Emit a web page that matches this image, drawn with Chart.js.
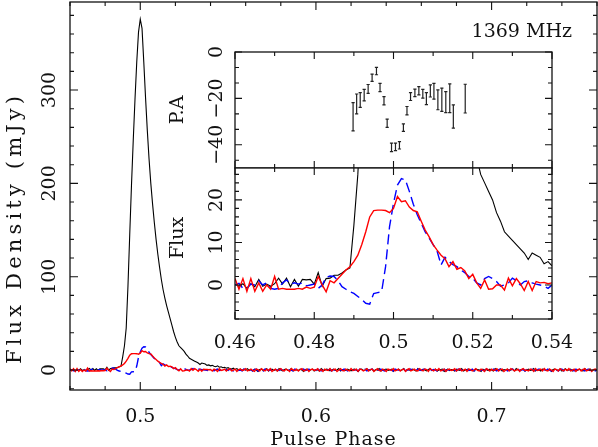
<!DOCTYPE html>
<html>
<head>
<meta charset="utf-8">
<script src="https://cdn.jsdelivr.net/npm/chart.js@4.4.1/dist/chart.umd.min.js"></script>
<style>
  html, body { margin: 0; padding: 0; background: #fff; }
  #wrap { position: relative; width: 598px; height: 447px; overflow: hidden; }
  #wrap canvas { position: absolute; left: 0; top: 0; }
</style>
</head>
<body>
<div id="wrap">
  <canvas id="mainChart" width="598" height="447"></canvas>
  <canvas id="paChart" width="598" height="447"></canvas>
  <canvas id="fluxChart" width="598" height="447"></canvas>
</div>
<script>
// ==================== Data ====================
// profile bins: one value per 0.001 in pulse phase, starting at 0.46
const phaseStart = 0.46;
const phaseStep = 0.001;

// total intensity (black)
const stokesI = [
  0.2, -0.3, 0.3, -0.8, 0.3, -0.4, 1.3, -0.3, 0.2, -0.3,
  0.3, 1.6, 0.2, 1.6, -0.4, 1.3, -0.3, 1.3, 1.2, 1.3,
  0.2, 2.9, -0.3, 1.5, 1.6, 2.3, 2.3, 2.8, 3.5, 4.0,
  14, 26, 45, 90, 145, 198, 246, 290, 330, 362,
  376, 366, 330, 292, 257, 226, 200, 178, 158, 140,
  124, 110, 97, 86, 77, 69, 62, 55, 48, 41,
  35, 30, 26, 24, 22, 20, 17, 15, 12.5, 11.5,
  10.5, 9.5, 8.5, 7.5, 6, 7.5, 7, 6.5, 5, 5.5,
  4.5, 5, 4, 3.5, 4.5, 3, 3.5, 2.5, 3, 2,
  2.5, 1.5, 1, 2, 0.5, 1.5, 0, 1, -0.5, 1,
  0, 1.5, -0.5, 0.5, -1, 1, 0, -1.5, 0.5, 1,
  -0.5, 0.5, 1.5, -1, 0, 1, -0.5, 0.5, -1, 1.5,
  0, -1, 0.5, 1, -0.5, 0, 1.5, -1, 0.5, 0,
  -0.5, 1, 0, -1.5, 0.5, 1, -0.5, 0, 1, -1,
  0.5, 0, -1, 1.5, 0, -0.5, 1, 0.5, -1, 0,
  1, -0.5, 0, 1.5, -1, 0.5, 0, -0.5, 1, 0,
  -1, 0.5, 1, 0, -1.5, 0.5, 1, -0.5, 0, 1.5,
  -0.5, 0, 1, -1, 0.5, 0, 1.5, -1, 0, 0.5,
  1, -0.5, 0, 1, -1.5, 0.5, 0, 1, -0.5, 0,
  1.5, -1, 0.5, 0, -0.5, 1, 0, -1, 1.5, 0,
  -0.5, 1, 0, -1, 0.5, 1.5, -0.5, 0, 1, -1,
  0, 0.5, 1, -1.5, 0, 1, -0.5, 0.5, 0, -1,
  1, 0, -0.5, 1.5, -1, 0, 0.5, 1, -0.5, 0,
  -1, 1, 0.5, 0, -1.5, 1, 0, 0.5, -0.5, 1,
  0, -1, 1.5, 0, -0.5, 1, -1, 0.5, 0, 1,
  -0.5, 0, 1, -1, 1.5, 0, -0.5, 0.5, 1, -1,
  0, 1, -0.5, 0, 1.5, -1, 0.5, 0, -1, 1,
  0.5, -0.5, 0, 1, -1.5, 0.5, 1, 0, -0.5, 1,
  -1, 0, 1.5, -0.5, 0, 1, -1, 0.5, 0, -0.5,
  1, 0, -1, 1.5, 0, -0.5, 1, -1, 0.5, 0,
  0.5
];

// linear polarization (red)
const linearPol = [
  1.5, -1, 1.5, -1.5, 1.5, -1.5, 0.5, -1.5, 0, -1,
  2, -1, -0.8, -1, -1, -1, -0.8, -1, -0.5, -0.8,
  -0.5, 2, 0, -1.6, 1, 0.5, 1.5, 2.5, 3.5, 4.3,
  5.5, 7, 9.5, 12.5, 16, 17.5, 17.6, 17.6, 17.5, 17,
  18, 20.8, 19.6, 19.8, 18.3, 17.5, 17.2, 15, 12.9, 11.3,
  9.5, 8.2, 7, 6.2, 4.3, 5.5, 3.7, 4.1, 3.3, 1.5,
  2.5, 0.5, -0.8, 1.2, -1, -0.9, 0, 0, -1.2, 1.6,
  -0.2, 1.5, 0.3, -1.3, 0.8, -1.3, 0.8, 0.5, 0.6, 0.3,
  0.5, -1, 1, 0, -1.5, 1.5, -0.5, 0, 1, -1,
  0.5, 1.5, -1, 0, 1, -1.5, 0.5, 1, -0.5, 0,
  1.5, -1, 0, 1, -0.5, -1.5, 1, 0.5, -1, 1.5,
  0, -1, 1, -0.5, 1.5, -1.5, 0, 1, -1, 0.5,
  1.5, -0.5, -1, 1, 0, -1.5, 1.5, 0, -0.5, 1,
  -1, 0.5, 1.5, -1, 0, 1, -1.5, 0.5, 1, -0.5,
  0, 1.5, -1, 0.5, -1.5, 1, 0, -0.5, 1.5, -1,
  0.5, 1, -1.5, 0, 1.5, -0.5, -1, 1, 0, -1,
  1.5, -0.5, 0, 1, -1.5, 1, 0.5, -1, 0, 1.5,
  -1, 0.5, 1, -1.5, 0, 1.5, -0.5, -1, 1, 0,
  -1.5, 1, 0.5, -0.5, 1.5, -1, 0, 1, -1, 0.5,
  1, -1.5, 0.5, 1.5, -1, 0, 1, -0.5, -1, 1.5,
  0, -1, 1, 0.5, -1.5, 1.5, 0, -1, 1, -0.5,
  1.5, -1, 0, 1, -1.5, 0.5, 1, -0.5, 0, 1.5,
  -1, 0.5, 1.5, -1, 0, 1, -1.5, 1, 0.5, -1,
  0, 1.5, -0.5, -1, 1, 0, -1.5, 1.5, 0.5, -1,
  1, -0.5, 0, 1.5, -1, 0.5, 1, -1.5, 0, 1,
  -1, 1.5, 0.5, -1, 0, 1, -1.5, 0.5, 1.5, -0.5,
  0, -1, 1, 0.5, -1.5, 1.5, -0.5, 0, 1, -1,
  1.5, -0.5, -1, 1, 0, -1.5, 1, 0.5, -1, 1.5,
  0, -1, 1, -0.5, 1.5, -1, 0, 1, -1.5, 0.5,
  1, -1, 0.5, 1.5, -1, 0, 1, -1.5, 0.5, 1,
  0
];

// circular polarization (blue, dashed)
const circularPol = [
  0, 0.4, -0.8, -0.8, 0.2, 0, 1, 0, 0.5, -0.8,
  -1, -0.8, 0.5, 1.2, 0.2, 0.5, 0.2, 0.5, -0.2, 0,
  0.2, -0.8, 0, 1.8, 2.1, 2, 1, -0.4, -1, -1.6,
  -2, -2.7, -3.4, -4.3, -4.5, -2, -1.8, -1.6, 4.3, 13.7,
  19.2, 23.5, 25, 24.7, 22, 19, 16.5, 14.5, 12.5, 11,
  9.5, 8, 4.7, 6.5, 5.5, 4.8, 4.3, 3.5, 2.9, 2,
  1.6, 0.5, 0, 1.5, 2, 1.5, 0.8, -0.3, 0, 0.5,
  1.6, 1, 0, 0.8, 1, 0.5, 0.2, 0, -0.3, -0.8,
  0, 0.5, -1, 0.5, 1, -0.5, 0, 1, -1, 0.5,
  -0.5, 1, 0, -1, 0.5, 1, -0.5, 0, -1, 1,
  0.5, -0.5, 1, 0, -1, 0.5, 1, -1, 0, 0.5,
  -1, 1, 0.5, -0.5, 0, 1, -1, 0.5, 0, -0.5,
  1, 0, -1, 0.5, 1, -0.5, 0, -1, 1, 0.5,
  0, -1, 0.5, 1, -0.5, 0, 1, -1, 0.5, 0,
  -0.5, 1, 0, -1, 1, 0.5, -0.5, 0, 1, -1,
  0.5, 0, -1, 1, 0, -0.5, 1, 0.5, -1, 0,
  1, -0.5, 0, 0.5, -1, 1, 0, -0.5, 1, -1,
  0, 0.5, 1, -1, 0, 0.5, -0.5, 1, 0, -1,
  0.5, 1, -0.5, 0, -1, 1, 0.5, 0, -1, 0.5,
  1, -1, 0, 0.5, 1, -0.5, 0, -1, 1, 0,
  -0.5, 0.5, 1, -1, 0, 1, -0.5, 0.5, 0, -1,
  1, 0, -0.5, 1, -1, 0.5, 0, 1, -0.5, 0,
  -1, 1, 0.5, 0, -1, 0.5, 1, -0.5, 0, 1,
  -1, 0, 0.5, 1, -0.5, 0, -1, 1, 0.5, 0,
  -0.5, 1, 0, -1, 0.5, 1, 0, -0.5, 1, -1,
  0, 0.5, 1, -1, 0, 1, -0.5, 0, 0.5, -1,
  1, 0, -0.5, 1, -1, 0, 0.5, 1, -1, 0,
  0.5, -0.5, 1, 0, -1, 1, 0.5, 0, -1, 0.5,
  1, -1, 0, 0.5, 1, -0.5, 0, -1, 1, 0,
  -0.5, 1, 0.5, -1, 0, 1, -0.5, 0, 1, -1,
  0
];

// position angle with error bars (degrees)
const paPhase = [0.4898, 0.4907, 0.4916, 0.4926, 0.4936, 0.4946, 0.4957, 0.4966, 0.4976, 0.4984,
  0.4995, 0.5005, 0.5015, 0.5025, 0.5034, 0.5043, 0.5054, 0.5064, 0.5074, 0.5083,
  0.5093, 0.5102, 0.5112, 0.5122, 0.5132, 0.5142, 0.5151, 0.5181];
const paValue = [-27.9, -22.4, -20.7, -18.6, -15.9, -11.1, -8.2, -15.3, -21.0, -30.7,
  -41.1, -40.9, -40.2, -32.6, -25.3, -19.2, -17.6, -16.7, -18.0, -20.1,
  -16.8, -16.9, -20.6, -20.6, -21.6, -19.9, -27.8, -20.1];
const paError = [6.1, 4.3, 3.2, 2.5, 1.9, 1.6, 1.6, 1.8, 1.8, 1.8,
  1.8, 1.6, 1.6, 1.6, 1.8, 1.7, 1.6, 1.8, 1.9, 2.6,
  2.6, 3.4, 4.3, 5.0, 4.5, 6.2, 5.0, 6.2];

// tick labels
const mainXTicks = [0.5, 0.6, 0.7];
const mainYTicks = [0, 100, 200, 300];
const insetXTicks = [0.46, 0.48, 0.5, 0.52, 0.54];
const fluxYTicks = [0, 10, 20];
const paYTicks = [0, -20, -40];

const FONT = '19px "DejaVu Serif"';
const TITLE_FONT = '21px "DejaVu Serif"';
const INK = '#111';

// ==================== Helpers ====================
function toPoints(values) {
  return values.map((v, i) => ({ x: phaseStart + i * phaseStep, y: v }));
}

function profileDatasets() {
  // index 0 is drawn last, so red ends on top
  return [
    { data: toPoints(linearPol), borderColor: '#ff0000', borderWidth: 1.4 },
    { data: toPoints(circularPol), borderColor: '#0000ff', borderWidth: 1.4, borderDash: [10, 5] },
    { data: toPoints(stokesI), borderColor: '#000000', borderWidth: 1.1 }
  ];
}

function baseOptions(pad, xMin, xMax, yMin, yMax) {
  return {
    responsive: false,
    animation: false,
    events: [],
    layout: { padding: pad },
    elements: { point: { radius: 0 }, line: { tension: 0, fill: false } },
    plugins: { legend: { display: false }, tooltip: { enabled: false } },
    scales: {
      x: { type: 'linear', min: xMin, max: xMax, display: false },
      y: { type: 'linear', min: yMin, max: yMax, display: false }
    }
  };
}

function fmt(v) {
  return String(v).replace('-', '\u2212');
}

function drawTicks(ctx, scale, a, horizontal, minor, major, minorLen, majorLen) {
  const first = Math.ceil(scale.min / minor - 1e-6);
  const last = Math.floor(scale.max / minor + 1e-6);
  for (let i = first; i <= last; i++) {
    const v = i * minor;
    const r = v / major;
    const len = Math.abs(r - Math.round(r)) < 1e-6 ? majorLen : minorLen;
    const p = scale.getPixelForValue(v);
    ctx.beginPath();
    if (horizontal) {
      ctx.moveTo(p, a.bottom); ctx.lineTo(p, a.bottom - len);
      ctx.moveTo(p, a.top); ctx.lineTo(p, a.top + len);
    } else {
      ctx.moveTo(a.left, p); ctx.lineTo(a.left + len, p);
      ctx.moveTo(a.right, p); ctx.lineTo(a.right - len, p);
    }
    ctx.stroke();
  }
}

// text reading bottom to top, baseline on the right
function rotatedText(ctx, text, x, y, length) {
  ctx.save();
  if (length) {
    const natural = ctx.measureText(text).width;
    const gap = (length - natural) / (text.length - 1);
    ctx.letterSpacing = gap.toFixed(2) + 'px';
    y -= gap / 2;
  }
  ctx.translate(x, y);
  ctx.rotate(-Math.PI / 2);
  ctx.textAlign = 'center';
  ctx.textBaseline = 'alphabetic';
  ctx.fillText(text, 0, 0);
  ctx.restore();
}

// frame, inward ticks and labels in the PGPLOT manner
function framePlugin(cfg) {
  return {
    id: 'frame',
    beforeDraw(chart) {
      if (!cfg.whiteFill) return;
      const { ctx, chartArea: a } = chart;
      ctx.save();
      ctx.fillStyle = '#ffffff';
      ctx.fillRect(a.left, a.top, a.right - a.left, a.bottom - a.top);
      ctx.restore();
    },
    afterDraw(chart) {
      const { ctx, chartArea: a } = chart;
      const x = chart.scales.x;
      const y = chart.scales.y;
      ctx.save();
      ctx.strokeStyle = INK;
      ctx.lineWidth = 1.3;
      ctx.strokeRect(a.left, a.top, a.right - a.left, a.bottom - a.top);
      ctx.lineWidth = 1.1;
      drawTicks(ctx, x, a, true, cfg.xMinor, cfg.xMajor, cfg.minorLen, cfg.majorLen);
      drawTicks(ctx, y, a, false, cfg.yMinor, cfg.yMajor, cfg.minorLen, cfg.majorLen);

      ctx.fillStyle = INK;
      ctx.font = FONT;
      if (cfg.xLabels) {
        ctx.textAlign = 'center';
        ctx.textBaseline = 'alphabetic';
        cfg.xLabels.forEach(v => ctx.fillText(fmt(v), x.getPixelForValue(v), cfg.xLabelY));
      }
      if (cfg.yLabels) {
        cfg.yLabels.forEach(v => rotatedText(ctx, fmt(v), cfg.yLabelX, y.getPixelForValue(v)));
      }
      if (cfg.extra) cfg.extra(ctx, a);
      ctx.restore();
    }
  };
}

// PA error bars drawn through the chart's own scales
const errorBarPlugin = {
  id: 'errorBars',
  afterDatasetsDraw(chart) {
    const { ctx } = chart;
    const x = chart.scales.x;
    const y = chart.scales.y;
    ctx.save();
    ctx.strokeStyle = '#222';
    ctx.lineWidth = 1.2;
    paPhase.forEach((ph, i) => {
      const px = x.getPixelForValue(ph);
      const top = y.getPixelForValue(paValue[i] + paError[i]);
      const bot = y.getPixelForValue(paValue[i] - paError[i]);
      ctx.beginPath();
      ctx.moveTo(px, top); ctx.lineTo(px, bot);
      ctx.moveTo(px - 1.6, top); ctx.lineTo(px + 1.6, top);
      ctx.moveTo(px - 1.6, bot); ctx.lineTo(px + 1.6, bot);
      ctx.stroke();
    });
    ctx.restore();
  }
};

// ==================== Main profile ====================
new Chart(document.getElementById('mainChart'), {
  type: 'line',
  data: { datasets: profileDatasets() },
  options: baseOptions({ left: 70, top: 2, right: 1, bottom: 57 }, 0.46, 0.76, -21.4, 394.3),
  plugins: [framePlugin({
    xMinor: 0.02, xMajor: 0.1, yMinor: 20, yMajor: 100, minorLen: 4, majorLen: 8,
    xLabels: mainXTicks, xLabelY: 422,
    yLabels: mainYTicks, yLabelX: 55,
    extra(ctx, a) {
      ctx.save();
      ctx.textAlign = 'center';
      ctx.letterSpacing = '1px';
      ctx.fillText('Pulse Phase', (a.left + a.right) / 2, 445);
      ctx.letterSpacing = '0px';
      ctx.font = TITLE_FONT;
      rotatedText(ctx, 'Flux Density (mJy)', 21, 230, 268);
      ctx.font = FONT;
      ctx.textAlign = 'right';
      ctx.fillText('1369 MHz', 572, 37);
      ctx.restore();
    }
  })]
});

// ==================== Inset: position angle ====================
new Chart(document.getElementById('paChart'), {
  type: 'scatter',
  data: {
    datasets: [{
      data: paPhase.map((ph, i) => ({ x: ph, y: paValue[i] })),
      pointRadius: 0,
      showLine: false
    }]
  },
  options: baseOptions({ left: 235, top: 52, right: 46, bottom: 279 }, 0.46, 0.54, -50, 0),
  plugins: [errorBarPlugin, framePlugin({
    whiteFill: true,
    xMinor: 0.01, xMajor: 0.02, yMinor: 20 / 3, yMajor: 20, minorLen: 4, majorLen: 7,
    yLabels: paYTicks, yLabelX: 222,
    extra(ctx, a) {
      rotatedText(ctx, 'P.A', 183, (a.top + a.bottom) / 2);
    }
  })]
});

// ==================== Inset: zoomed profile ====================
new Chart(document.getElementById('fluxChart'), {
  type: 'line',
  data: { datasets: profileDatasets() },
  options: baseOptions({ left: 235, top: 168, right: 46, bottom: 128 }, 0.46, 0.54, -8.0, 27.5),
  plugins: [framePlugin({
    whiteFill: true,
    xMinor: 0.01, xMajor: 0.02, yMinor: 2, yMajor: 10, minorLen: 4, majorLen: 7,
    xLabels: insetXTicks, xLabelY: 348,
    yLabels: fluxYTicks, yLabelX: 222,
    extra(ctx, a) {
      rotatedText(ctx, 'Flux', 183, 238);
    }
  })]
});
</script>
</body>
</html>
